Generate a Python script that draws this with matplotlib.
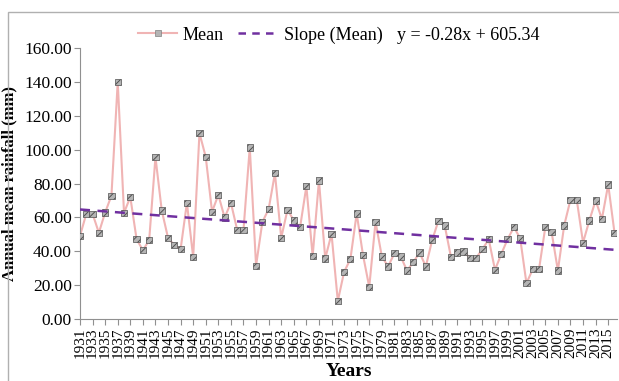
import numpy as np
import matplotlib
matplotlib.use("Agg")
import matplotlib.pyplot as plt
from matplotlib.lines import Line2D
from matplotlib.patches import Rectangle

plt.rcParams['font.family'] = ['Liberation Serif', 'DejaVu Serif']
plt.rcParams['hatch.linewidth'] = 0.7

# data
years = list(range(1931, 2017))
mean_rain = [
    49.1, 62.1, 62.1, 50.9, 62.9, 72.8, 140.0, 62.7, 72.0, 47.1,   # 1931-1940
    40.6, 46.5, 95.6, 64.1, 47.9, 43.6, 41.2, 68.6, 36.5, 109.8,   # 1941-1950
    95.6, 63.3, 73.3, 59.9, 68.6, 52.6, 52.6, 101.3, 31.5, 57.2,   # 1951-1960
    64.9, 86.0, 47.9, 64.5, 58.2, 54.2, 78.3, 37.1, 81.8, 35.7,    # 1961-1970
    50.3, 10.6, 27.8, 35.3, 62.3, 37.9, 18.9, 57.4, 36.9, 31.0,    # 1971-1980
    38.8, 36.9, 28.6, 33.5, 39.2, 31.0, 46.5, 58.0, 55.2, 36.5,    # 1981-1990
    39.2, 39.8, 36.1, 36.1, 41.2, 47.1, 29.0, 38.4, 47.1, 54.2,    # 1991-2000
    47.7, 21.1, 29.4, 29.4, 54.2, 51.3, 28.6, 55.2, 70.4, 70.4,    # 2001-2010
    45.1, 58.1, 70.0, 59.0, 79.4, 51.0,                            # 2011-2016
]
slope = -0.28
intercept = 605.34
y_ticks = [0, 20, 40, 60, 80, 100, 120, 140, 160]

fig = plt.figure(figsize=(6.19, 3.81), dpi=100)
ax = fig.add_axes([80 / 619, 62 / 381, 537 / 619, 271 / 381])

x = np.array(years)
y = np.array(mean_rain)

ax.plot(x, y, color='#f0b4b4', lw=1.5, zorder=2)
ax.scatter(x, y, marker='s', s=20, facecolor='#b4b4b4', edgecolor='#505050',
           hatch='/////', linewidth=0.5, zorder=3)

trend = slope * x + intercept
ax.plot(x, trend, color='#7030a0', lw=1.8, dashes=(4, 3), zorder=4)

ax.set_xlim(1931, 2016.4)
ax.set_ylim(0, 160)
ax.set_yticks(y_ticks)
ax.set_yticklabels([f"{v:.2f}" for v in y_ticks], fontsize=12.5)
ax.set_xticks(years[::2])
ax.set_xticklabels([str(v) for v in years[::2]], rotation=90, fontsize=11)

for s in ['top', 'right']:
    ax.spines[s].set_visible(False)
for s in ['left', 'bottom']:
    ax.spines[s].set_color('#909090')
ax.tick_params(axis='both', direction='out', length=4, color='#909090', pad=2)

ax.set_ylabel("Annual mean rainfall (mm)", fontsize=12, fontweight='bold', labelpad=5)
ax.set_xlabel("Years", fontsize=14, fontweight='bold', labelpad=4)

# legend at the top
h_mean = Line2D([], [], color='#f0b4b4', lw=1.5, marker='s', markersize=4,
                markerfacecolor='#b4b4b4', markeredgecolor='#808080', markeredgewidth=0.5)
h_slope = Line2D([], [], color='#7030a0', lw=1.8, dashes=(3, 2.5))
fig.legend([h_mean, h_slope], ["Mean", "Slope (Mean)"], loc='center',
           bbox_to_anchor=(260 / 619, 1 - 35 / 381), ncol=2, frameon=False,
           fontsize=13, handlelength=2.2, handletextpad=0.3, columnspacing=0.8)
fig.text(397 / 619, 1 - 35 / 381, "y = -0.28x + 605.34", fontsize=13,
         ha='left', va='center')

# light frame around the chart
fig.patches.append(Rectangle((8 / 619, -0.05), 1.05, 1 - 12 / 381 + 0.05,
                             transform=fig.transFigure, fill=False,
                             edgecolor='#b0b0b0', lw=1.0))

fig.savefig("out.png", dpi=100)
